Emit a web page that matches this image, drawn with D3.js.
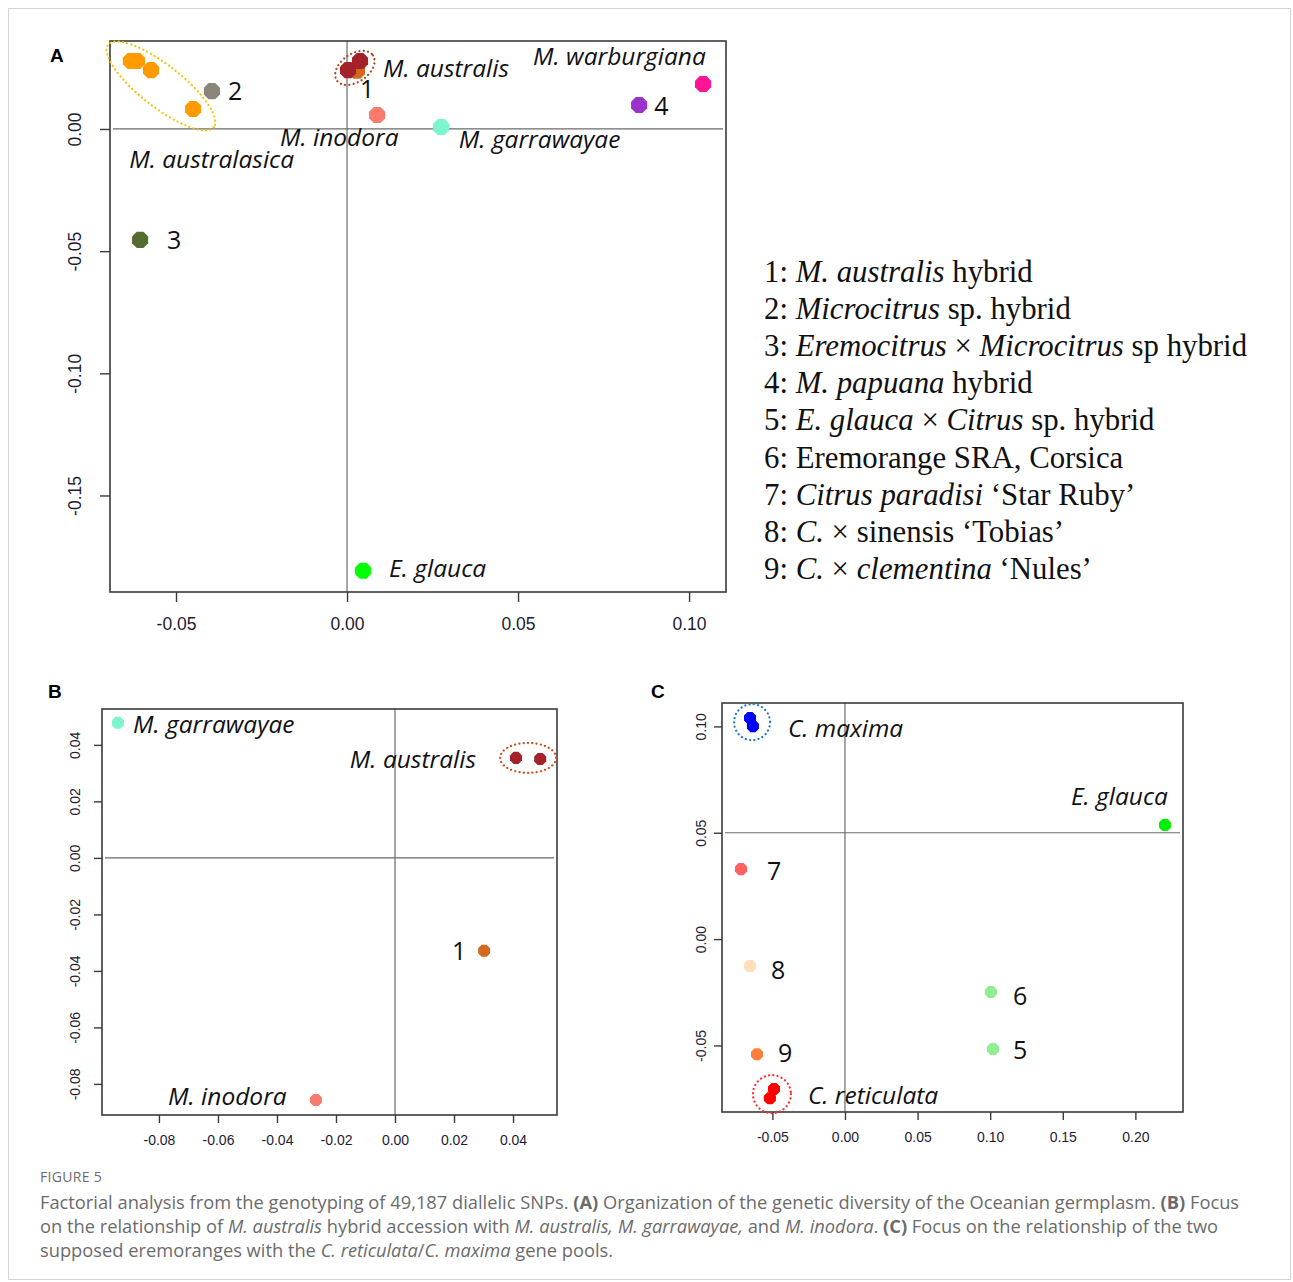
<!DOCTYPE html>
<html>
<head>
<meta charset="utf-8">
<script src="https://cdn.jsdelivr.net/npm/d3@7"></script>
<style>
  body { margin: 0; background: #fff; }
  svg { display: block; }
  .tick text { font-family: "Liberation Sans", Arial, sans-serif; fill: #1c1c34; }
  .lbl { font-family: "Open Sans", sans-serif; font-style: italic; fill: #111; }
  .num { font-family: "Open Sans", sans-serif; fill: #111; }
</style>
</head>
<body>
<svg width="1293" height="1282"></svg>
<script>
// ---- Panel A : Oceanian germplasm ----
var aGroup = ['australasica','australasica','australasica','australasica','hyb2','hyb1','australis','australis','inodora','garrawayae','hyb4','warburgiana','hyb3','glauca'];
var aX = [-0.0632, -0.0614, -0.0573, -0.0450, -0.0395, 0.0029, 0.0003, 0.0038, 0.0088, 0.0275, 0.0854, 0.1041, -0.0605, 0.0047];
var aY = [0.0278, 0.0278, 0.0241, 0.0082, 0.0155, 0.0238, 0.0241, 0.0278, 0.0057, 0.0008, 0.0098, 0.0184, -0.0454, -0.1808];
var aXTicks = [-0.05, 0.00, 0.05, 0.10];
var aYTicks = [0.00, -0.05, -0.10, -0.15];
var aLabels = ['M. australis', 'M. warburgiana', '1', '2', 'M. inodora', 'M. garrawayae', 'M. australasica', '3', '4', 'E. glauca'];
var aLabelX = [0.0105, 0.0544, 0.0038, -0.0348, -0.0196, 0.0327, -0.0637, -0.0526, 0.0898, 0.0123];
var aLabelY = [0.0213, 0.0262, 0.0127, 0.0119, -0.0070, -0.0078, -0.0160, -0.0491, 0.0057, -0.1833];

// ---- Panel B : M. australis hybrid ----
var bGroup = ['garrawayae','australis','australis','hyb1','inodora'];
var bX = [-0.0939, 0.0410, 0.0492, 0.0302, -0.0268];
var bY = [0.0478, 0.0354, 0.0350, -0.0329, -0.0857];
var bXTicks = [-0.08, -0.06, -0.04, -0.02, 0.00, 0.02, 0.04];
var bYTicks = [0.04, 0.02, 0.00, -0.02, -0.04, -0.06, -0.08];
var bLabels = ['M. garrawayae', 'M. australis', '1', 'M. inodora'];
var bLabelX = [-0.0888, -0.0153, 0.0193, -0.0769];
var bLabelY = [0.0442, 0.0319, -0.0361, -0.0874];

// ---- Panel C : eremoranges ----
var cGroup = ['maxima','maxima','glaucaC','hyb7','hyb8','hyb6','hyb5','hyb9','reticulata','reticulata'];
var cX = [-0.0654, -0.0634, 0.2204, -0.0716, -0.0654, 0.1006, 0.1019, -0.0606, -0.0489, -0.0517];
var cY = [0.1039, 0.1001, 0.0536, 0.0329, -0.0127, -0.0249, -0.0517, -0.0541, -0.0705, -0.0748];
var cXTicks = [-0.05, 0.00, 0.05, 0.10, 0.15, 0.20];
var cYTicks = [0.10, 0.05, 0.00, -0.05];
var cLabels = ['C. maxima', 'E. glauca', '7', '8', '6', '5', '9', 'C. reticulata'];
var cLabelX = [-0.0393, 0.1556, -0.0537, -0.0510, 0.1157, 0.1157, -0.0461, -0.0255];
var cLabelY = [0.0950, 0.0630, 0.0277, -0.0188, -0.0310, -0.0564, -0.0578, -0.0776];

var colors = {
    australasica: '#ff9a00', hyb2: '#8c857a', australis: '#a3222a', hyb1: '#d2691e',
    inodora: '#fa7a6c', garrawayae: '#7cf5cf', hyb4: '#9a32cd', warburgiana: '#ff1493',
    hyb3: '#556b2f', glauca: '#00ff00',
    maxima: '#0000ff', glaucaC: '#00ee00', hyb7: '#ff6060', hyb8: '#ffdfba', hyb6: '#90ee90',
    hyb5: '#90ee90', hyb9: '#ff7f3a', reticulata: '#ff0000'
};

// legend entries: [text, italic?]
var legendItems = [
    [['1: ',0],['M. australis',1],[' hybrid',0]],
    [['2: ',0],['Microcitrus',1],[' sp. hybrid',0]],
    [['3: ',0],['Eremocitrus',1],[' \u00d7 ',0],['Microcitrus',1],[' sp hybrid',0]],
    [['4: ',0],['M. papuana',1],[' hybrid',0]],
    [['5: ',0],['E. glauca',1],[' \u00d7 ',0],['Citrus',1],[' sp. hybrid',0]],
    [['6: Eremorange SRA, Corsica',0]],
    [['7: ',0],['Citrus paradisi',1],[' \u2018Star Ruby\u2019',0]],
    [['8: ',0],['C.',1],[' \u00d7 sinensis \u2018Tobias\u2019',0]],
    [['9: ',0],['C.',1],[' \u00d7 ',0],['clementina',1],[' \u2018Nules\u2019',0]]
];

var svg = d3.select('svg');

svg.append('rect')
    .attr('x', 8.5).attr('y', 8.5).attr('width', 1282).attr('height', 1271)
    .attr('fill', 'none').attr('stroke', '#d4d4d4');

// octagon symbol, the R points look like this
var octagon = {
    draw: function(ctx, size) {
        var r = Math.sqrt(size / 2.83);
        for (var k = 0; k < 8; k++) {
            var a = Math.PI / 8 + k * Math.PI / 4;
            if (k == 0) ctx.moveTo(r * Math.cos(a), r * Math.sin(a));
            else ctx.lineTo(r * Math.cos(a), r * Math.sin(a));
        }
        ctx.closePath();
    }
};

function fmt(d) { return d.toFixed(2); }

function drawPanel(p) {
    var x = d3.scaleLinear().domain(p.xDomain).range([p.left, p.right]);
    var y = d3.scaleLinear().domain(p.yDomain).range([p.bottom, p.top]);
    var g = svg.append('g');

    // reference lines
    g.append('line')
        .attr('x1', x(0)).attr('x2', x(0))
        .attr('y1', p.top).attr('y2', p.bottom)
        .attr('stroke', '#6a6a6a').attr('stroke-width', 1.2);
    g.append('line')
        .attr('x1', p.left + 3).attr('x2', p.right - 3)
        .attr('y1', y(p.hLine)).attr('y2', y(p.hLine))
        .attr('stroke', '#6a6a6a').attr('stroke-width', 1.2);

    g.append('rect')
        .attr('x', p.left).attr('y', p.top)
        .attr('width', p.right - p.left).attr('height', p.bottom - p.top)
        .attr('fill', 'none').attr('stroke', '#3a3a3a').attr('stroke-width', 1.6);

    var xa = g.append('g')
        .attr('transform', 'translate(0,' + p.bottom + ')')
        .call(d3.axisBottom(x).tickValues(p.xTicks).tickFormat(fmt).tickSize(p.tickLen).tickPadding(p.xPad));
    xa.select('.domain').remove();
    xa.selectAll('line').attr('stroke', '#3a3a3a').attr('stroke-width', 1.4);
    xa.selectAll('text').style('font-size', p.tickFont + 'px');

    var ya = g.append('g')
        .attr('transform', 'translate(' + p.left + ',0)')
        .call(d3.axisLeft(y).tickValues(p.yTicks).tickFormat(fmt).tickSize(p.tickLen));
    ya.select('.domain').remove();
    ya.selectAll('line').attr('stroke', '#3a3a3a').attr('stroke-width', 1.4);
    ya.selectAll('text')
        .style('font-size', p.tickFont + 'px')
        .attr('text-anchor', 'middle')
        .attr('x', 0).attr('dx', 0).attr('dy', 0)
        .attr('y', -p.yPad)
        .attr('transform', 'rotate(-90)');

    // dotted group ellipses
    p.rings.forEach(function(e) {
        g.append('ellipse')
            .attr('transform', 'translate(' + x(e.x) + ',' + y(e.y) + ') rotate(' + e.rot + ')')
            .attr('rx', e.rx).attr('ry', e.ry)
            .attr('fill', 'none').attr('stroke', e.color)
            .attr('stroke-width', 2.2).attr('stroke-linecap', 'round')
            .attr('stroke-dasharray', '0.1,4.2');
    });

    var sym = d3.symbol().type(octagon).size(p.size);
    g.selectAll('.pt')
        .data(p.xs)
        .enter()
        .append('path')
        .attr('d', sym)
        .attr('transform', function(d, i) { return 'translate(' + x(d) + ',' + y(p.ys[i]) + ')'; })
        .attr('fill', function(d, i) { return colors[p.groups[i]]; });

    g.selectAll('.lab')
        .data(p.labels)
        .enter()
        .append('text')
        .attr('class', function(d) { return /^\d$/.test(d) ? 'num' : 'lbl'; })
        .attr('x', function(d, i) { return x(p.labX[i]); })
        .attr('y', function(d, i) { return y(p.labY[i]); })
        .style('font-size', function(d) { return (/^\d$/.test(d) ? p.numFont : p.labFont) + 'px'; })
        .text(function(d) { return d; });
}

drawPanel({
    left: 110, right: 726, top: 41, bottom: 592,
    xDomain: [-0.0693, 0.1108], yDomain: [-0.1895, 0.036], hLine: 0,
    xTicks: aXTicks, yTicks: aYTicks, tickLen: 10, tickFont: 17.5, xPad: 16, yPad: 29,
    xs: aX, ys: aY, groups: aGroup, size: 215,
    labels: aLabels, labX: aLabelX, labY: aLabelY, labFont: 24.5, numFont: 25,
    rings: [
        { x: -0.0544, y: 0.0176, rx: 67, ry: 21, rot: 38, color: '#f2c200' },
        { x: 0.0023, y: 0.0250, rx: 22, ry: 14, rot: -35, color: '#b5451b' }
    ]
});

drawPanel({
    left: 102, right: 557, top: 709, bottom: 1115,
    xDomain: [-0.0993, 0.0549], yDomain: [-0.091, 0.0527], hLine: 0,
    xTicks: bXTicks, yTicks: bYTicks, tickLen: 8, tickFont: 14, xPad: 12, yPad: 22,
    xs: bX, ys: bY, groups: bGroup, size: 120,
    labels: bLabels, labX: bLabelX, labY: bLabelY, labFont: 24.5, numFont: 25,
    rings: [
        { x: 0.0451, y: 0.0354, rx: 28, ry: 15, rot: 0, color: '#c5501e' }
    ]
});

drawPanel({
    left: 722, right: 1183, top: 703, bottom: 1112,
    xDomain: [-0.0847, 0.2328], yDomain: [-0.0813, 0.111], hLine: 0.05,
    xTicks: cXTicks, yTicks: cYTicks, tickLen: 8, tickFont: 14, xPad: 12, yPad: 16,
    xs: cX, ys: cY, groups: cGroup, size: 120,
    labels: cLabels, labX: cLabelX, labY: cLabelY, labFont: 24.5, numFont: 25,
    rings: [
        { x: -0.064, y: 0.102, rx: 18, ry: 18, rot: 0, color: '#1f78d0' },
        { x: -0.0503, y: -0.0729, rx: 19, ry: 19, rot: 0, color: '#ff2a2a' }
    ]
});

// panel letters
svg.selectAll('.plet')
    .data([['A', 50, 62], ['B', 48, 698], ['C', 651, 698]])
    .enter()
    .append('text')
    .attr('x', function(d) { return d[1]; })
    .attr('y', function(d) { return d[2]; })
    .style('font-family', '"Liberation Sans", Arial, sans-serif')
    .style('font-weight', 'bold').style('font-size', '19px')
    .text(function(d) { return d[0]; });

// species key
var key = svg.append('g')
    .style('font-family', '"Liberation Serif", "Times New Roman", serif')
    .style('font-size', '30.8px').style('fill', '#111');
legendItems.forEach(function(item, i) {
    var t = key.append('text').attr('x', 764).attr('y', 282 + i * 37.1);
    item.forEach(function(seg) {
        t.append('tspan').style('font-style', seg[1] ? 'italic' : 'normal').text(seg[0]);
    });
});

// caption
var cap = svg.append('g')
    .style('font-family', '"Open Sans", sans-serif').style('fill', '#6b6b6b');
cap.append('text')
    .attr('x', 40).attr('y', 1182)
    .style('font-size', '14px').style('letter-spacing', '0.3px')
    .text('FIGURE 5');

var capLines = [
    [['Factorial analysis from the genotyping of 49,187 diallelic SNPs. ',''],['(A)','b'],[' Organization of the genetic diversity of the Oceanian germplasm. ',''],['(B)','b'],[' Focus','']],
    [['on the relationship of ',''],['M. australis','i'],[' hybrid accession with ',''],['M. australis, M. garrawayae,','i'],[' and ',''],['M. inodora','i'],['. ',''],['(C)','b'],[' Focus on the relationship of the two','']],
    [['supposed eremoranges with the ',''],['C. reticulata','i'],['/',''],['C. maxima','i'],[' gene pools.','']]
];
capLines.forEach(function(line, i) {
    var t = cap.append('text')
        .attr('x', 40).attr('y', 1209 + i * 24.2)
        .style('font-size', '18.3px');
    line.forEach(function(seg) {
        t.append('tspan')
            .style('font-style', seg[1] == 'i' ? 'italic' : 'normal')
            .style('font-weight', seg[1] == 'b' ? 'bold' : 'normal')
            .text(seg[0]);
    });
});
</script>
</body>
</html>
